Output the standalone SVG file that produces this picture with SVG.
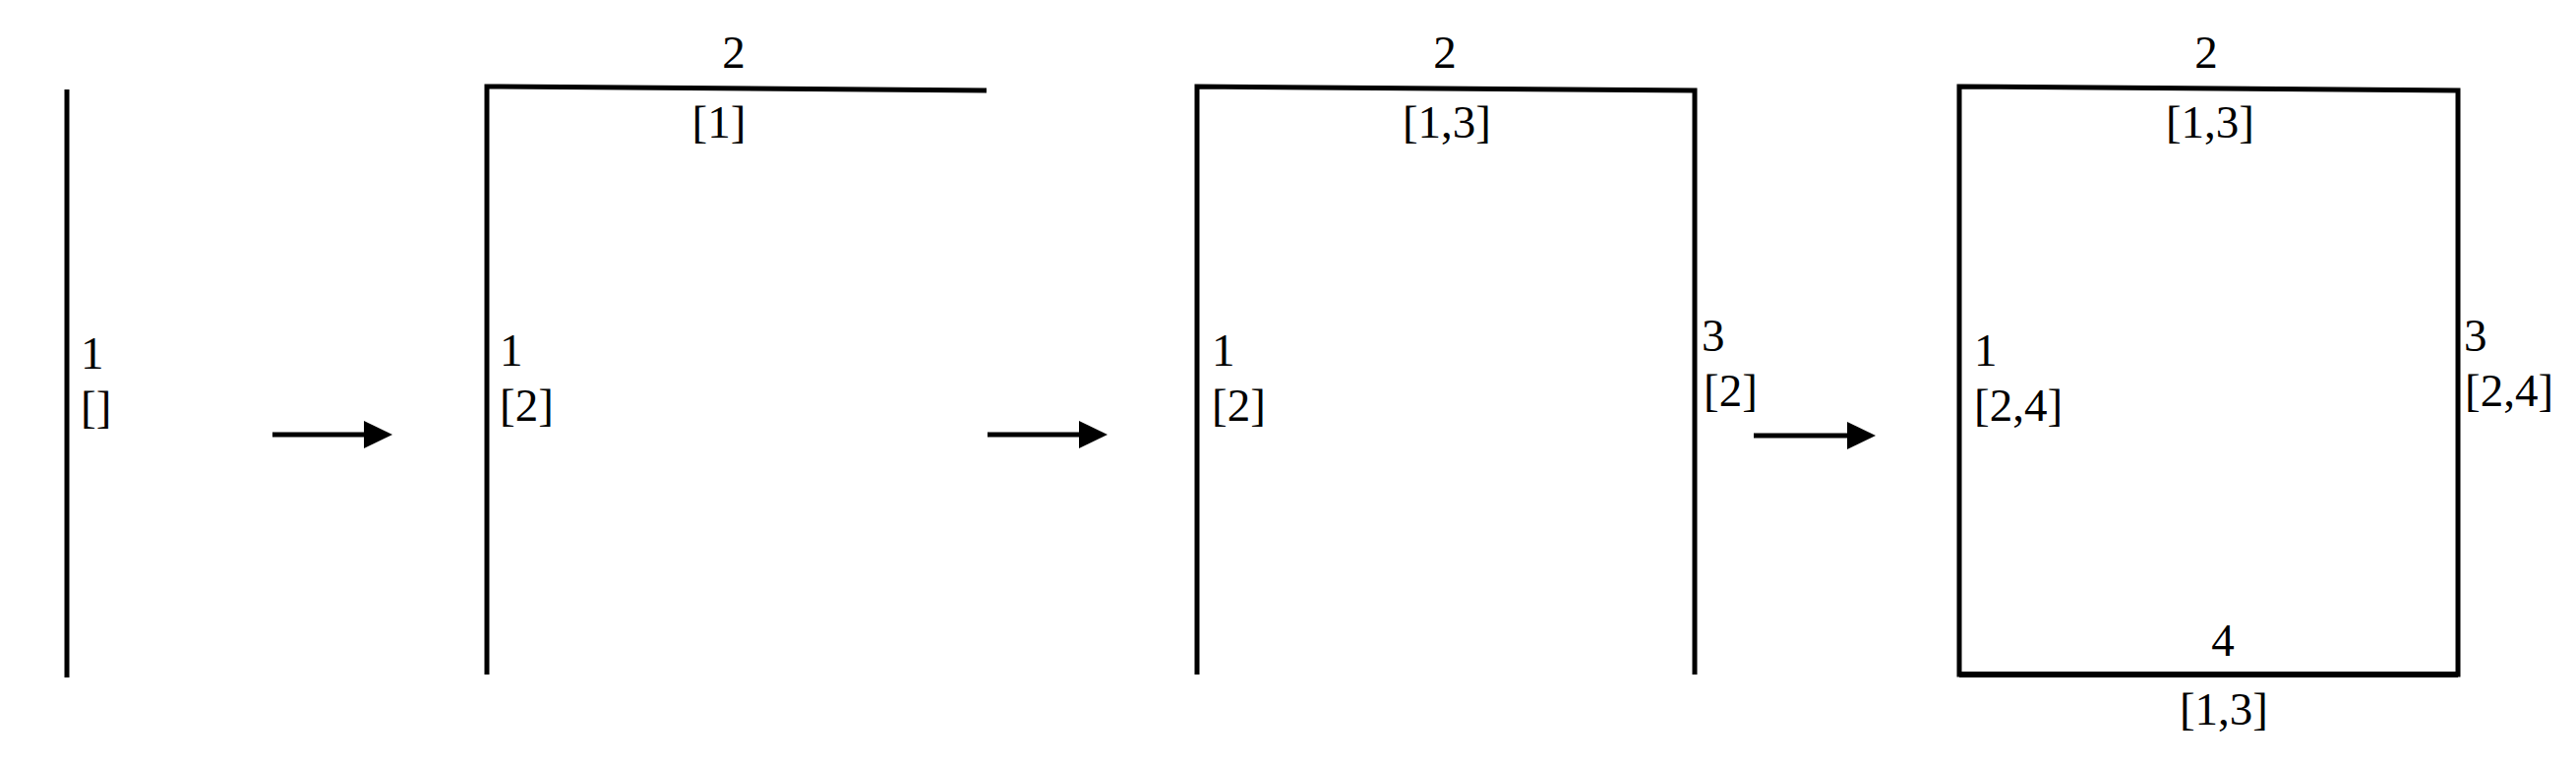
<svg xmlns="http://www.w3.org/2000/svg" width="2619" height="777" viewBox="0 0 2619 777">
  <style>
    .edge { fill: none; stroke: #000; stroke-width: 5; stroke-linejoin: miter; stroke-linecap: butt; }
    .lbl { font-family: "Liberation Serif", "Times New Roman", serif; font-size: 47px; fill: #000; }
    .mid { text-anchor: middle; }
    .arrow { stroke: #000; stroke-width: 5; fill: none; marker-end: url(#head); }
  </style>
  <defs>
    <marker id="head" markerUnits="userSpaceOnUse" markerWidth="30" markerHeight="30" refX="0" refY="14" orient="auto">
      <path d="M0,0 L29,14 L0,28 Z" fill="#000"/>
    </marker>
  </defs>
  <rect width="2619" height="777" fill="#fff"/>

  <g id="step1">
    <line class="edge" x1="68" y1="91" x2="68" y2="689"/>
    <text class="lbl" x="82" y="375">1</text>
    <text class="lbl" x="82" y="430">[]</text>
  </g>

  <g id="step2">
    <polyline class="edge" points="495,686 495,88 1003,92"/>
    <text class="lbl mid" x="746" y="69">2</text>
    <text class="lbl mid" x="731" y="140">[1]</text>
    <text class="lbl" x="508" y="372">1</text>
    <text class="lbl" x="508" y="428">[2]</text>
  </g>

  <g id="step3">
    <polyline class="edge" points="1217,686 1217,88 1723,92 1723,686"/>
    <text class="lbl mid" x="1469" y="69">2</text>
    <text class="lbl mid" x="1471" y="140">[1,3]</text>
    <text class="lbl" x="1232" y="372">1</text>
    <text class="lbl" x="1232" y="428">[2]</text>
    <text class="lbl" x="1730" y="357">3</text>
    <text class="lbl" x="1732" y="413">[2]</text>
  </g>

  <g id="step4">
    <path class="edge" d="M1992,88 L2499,92 L2499,686 L1992,686 Z"/>
    <line x1="1992" y1="686" x2="2499" y2="686" stroke="#000" stroke-width="6"/>
    <text class="lbl mid" x="2243" y="69">2</text>
    <text class="lbl mid" x="2247" y="140">[1,3]</text>
    <text class="lbl" x="2007" y="372">1</text>
    <text class="lbl" x="2007" y="428">[2,4]</text>
    <text class="lbl" x="2505" y="357">3</text>
    <text class="lbl" x="2506" y="413">[2,4]</text>
    <text class="lbl mid" x="2260" y="667">4</text>
    <text class="lbl mid" x="2261" y="737">[1,3]</text>
  </g>

  <g id="connectors">
    <line class="arrow" x1="277" y1="442" x2="370" y2="442"/>
    <line class="arrow" x1="1004" y1="442" x2="1097" y2="442"/>
    <line class="arrow" x1="1783" y1="443" x2="1878" y2="443"/>
  </g>
</svg>
